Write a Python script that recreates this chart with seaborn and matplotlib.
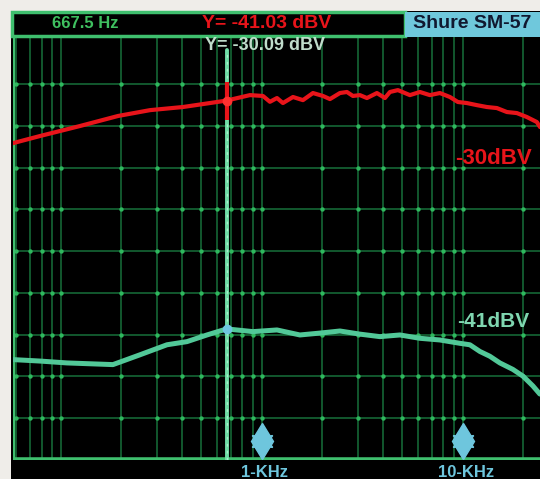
import numpy as np
import pandas as pd
import matplotlib
matplotlib.use("Agg")
import matplotlib.pyplot as plt
from matplotlib.patches import Rectangle
import seaborn as sns

# ---------------- data ----------------
red_freq = [57.7, 78.6, 124.3, 192.1, 277.2, 404.5, 597.2, 667.5, 871.4, 1011.5, 1096, 1188,
            1272, 1427, 1600, 1794, 2012, 2180, 2444, 2648, 2836, 3073, 3330, 3734, 4093,
            4334, 4750, 5449, 6112, 6853, 7685, 8617, 9443, 10469, 11742, 13164, 14766,
            16555, 18565, 20820, 23346, 24200]
red_db = [-32.13, -31.79, -31.31, -30.83, -30.55, -30.40, -30.16, -30.09, -29.83, -29.87,
          -30.15, -29.97, -30.21, -29.92, -30.07, -29.73, -29.87, -30.02, -29.73, -29.68,
          -29.87, -29.83, -29.97, -29.73, -29.97, -29.68, -29.59, -29.83, -29.68, -29.83,
          -29.73, -29.92, -30.16, -30.21, -30.31, -30.40, -30.45, -30.64, -30.69, -30.88,
          -31.12, -31.36]

green_freq = [57.7, 78.6, 107.1, 181.4, 247.2, 336.8, 423.4, 532.6, 667.5, 902.1, 1188, 1545,
              1944, 2444, 3073, 3865, 4861, 6112, 7685, 9663, 10835, 12151, 13623, 15281,
              17737, 19888, 22302, 24161]
green_db = [-42.50, -42.57, -42.66, -42.74, -42.27, -41.79, -41.64, -41.32, -41.03, -41.16,
            -41.08, -41.32, -41.23, -41.13, -41.28, -41.40, -41.32, -41.48, -41.56, -41.72,
            -41.79, -42.11, -42.34, -42.66, -42.97, -43.29, -43.76, -44.15]

cursor_freq = 667.5
cursor_red_db = -30.09
cursor_green_db = -41.03
marker_freqs = [1000, 10000]
marker_labels = ["1-KHz", "10-KHz"]
header_freq_text = "667.5 Hz"
header_red_text = "Y= -41.03 dBV"
header_green_text = "Y= -30.09 dBV"
title_text = "Shure SM-57"
red_label = "-30dBV"
green_label = "-41dBV"

x_min, x_max = 57.7, 24200
y_top, y_bottom = -26.95, -47.31
h_grid = np.arange(-29.3, -46.0, -2.0)

# ---------------- style ----------------
sns.set_style("dark")
plt.rcParams['font.family'] = ['Liberation Sans', 'DejaVu Sans']

W, H = 540, 479
fig = plt.figure(figsize=(W / 100, H / 100), dpi=100, facecolor="#efede9")

def fx(px):
    return px / W

def fy(py):
    return 1 - py / H

# black screen background
bg = Rectangle((fx(11), 0), 1 - fx(11), fy(11), transform=fig.transFigure,
               facecolor="black", edgecolor="none", zorder=-5)
fig.patches.append(bg)

ax = fig.add_axes([fx(13), fy(460), fx(540) - fx(13), fy(35) - fy(460)])
ax.set_zorder(1)
ax.set_facecolor("black")
ax.set_xscale("log")
ax.set_xlim(x_min, x_max)
ax.set_ylim(y_bottom, y_top)

grid_col = "#17703a"
ax.set_yticks(h_grid)
ax.xaxis.set_major_locator(matplotlib.ticker.LogLocator(base=10))
ax.xaxis.set_minor_locator(matplotlib.ticker.LogLocator(base=10, subs=np.arange(2, 10)))
ax.grid(True, which="both", axis="x", color=grid_col, lw=1.1)
ax.grid(True, which="major", axis="y", color=grid_col, lw=1.1)
ax.tick_params(which="both", length=0, labelbottom=False, labelleft=False)
for s in ax.spines.values():
    s.set_visible(False)

# grid intersection dots
vlines = [v for d in [10, 100, 1000, 10000] for v in d * np.arange(1, 10) if x_min < v < x_max]
gx, gy = np.meshgrid(vlines, h_grid)
ax.scatter(gx.ravel(), gy.ravel(), s=10, color="#2fb85e", zorder=2, linewidths=0)

# frame lines
ax.axvline(x_min, color="#3fbf6e", lw=3, zorder=3)
ax.axhline(y_bottom, color="#3fbf6e", lw=4, zorder=3)

# cursor line
ax.axvline(cursor_freq, ymax=0.965, color="#6fdca6", lw=2.8, zorder=4)
ax.axvline(cursor_freq, ymax=0.965, color="#a8f0cc", lw=1.0, ls=(0, (2, 3)), zorder=4)

# curves
red_df = pd.DataFrame({"f": red_freq, "db": red_db})
green_df = pd.DataFrame({"f": green_freq, "db": green_db})
sns.lineplot(data=green_df, x="f", y="db", ax=ax, color="#52c898", lw=3.6, zorder=5)
sns.lineplot(data=red_df, x="f", y="db", ax=ax, color="#e8141a", lw=3.0, zorder=6)
ax.set_xlabel("")
ax.set_ylabel("")

# cursor markers
ax.plot([cursor_freq], [cursor_red_db], marker="|", ms=28, mew=3, color="#e8141a", zorder=7)
ax.plot([cursor_freq], [cursor_red_db], marker="o", ms=6, color="#ff3030", zorder=7)
ax.plot([cursor_freq], [cursor_green_db], marker="o", ms=6, color="#6ec6e0", zorder=7)

# frequency markers at bottom
ax.plot(marker_freqs, [y_bottom + 0.9] * 2, ls="none", marker=(6, 1, 0), ms=17,
        color="#6ec6dd", zorder=8, clip_on=False)
ax.plot(marker_freqs, [y_bottom + 0.9] * 2, ls="none", marker="d", ms=18,
        color="#6ec6dd", zorder=8, clip_on=False)

# curve labels
ax.text(0.838, 0.71, red_label, transform=ax.transAxes, color="#e8141a",
        fontsize=16, fontweight="bold", ha="left", va="center")
ax.text(0.842, 0.325, green_label, transform=ax.transAxes, color="#7fd6b0",
        fontsize=15, fontweight="bold", ha="left", va="center")

# bottom labels
for f, lab in zip(marker_freqs, marker_labels):
    ax.annotate(lab, xy=(f, y_bottom), xytext=(2, -9), textcoords="offset points",
                ha="center", va="center", color="#6ec6dd", fontsize=12,
                fontweight="bold", annotation_clip=False)

# header
fig.patches.append(Rectangle((fx(12), fy(36)), fx(405) - fx(12), fy(12) - fy(36),
                             transform=fig.transFigure, facecolor="black",
                             edgecolor="#3fbf6e", lw=2.5, zorder=10))
fig.patches.append(Rectangle((fx(405), fy(37)), 1 - fx(405), fy(12) - fy(37),
                             transform=fig.transFigure, facecolor="#6fc8dc",
                             edgecolor="none", zorder=10))
fig.text(fx(85), fy(24), header_freq_text, color="#3fc060", fontsize=12,
         fontweight="bold", ha="center", va="center", zorder=11)
fig.text(fx(267), fy(24), header_red_text, color="#e8141a", fontsize=14,
         fontweight="bold", ha="center", va="center", zorder=11)
fig.text(fx(472), fy(24), title_text, color="#101830", fontsize=14,
         fontweight="bold", ha="center", va="center", zorder=11)
fig.text(fx(265), fy(46), header_green_text, color="#c0dccb", fontsize=13,
         fontweight="bold", ha="center", va="center", zorder=11)

fig.savefig("out.png", dpi=100, facecolor=fig.get_facecolor())
